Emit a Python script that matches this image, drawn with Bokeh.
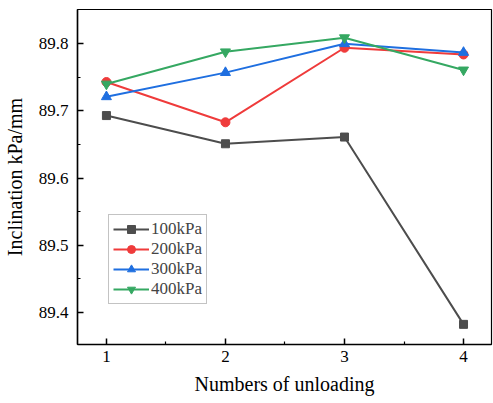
from bokeh.plotting import figure
from bokeh.models import FixedTicker, Range1d, Legend, LegendItem
from bokeh.embed import file_html
from bokeh.resources import INLINE

x = [1, 2, 3, 4]
s100 = [89.693, 89.651, 89.661, 89.382]
s200 = [89.743, 89.683, 89.794, 89.784]
s300 = [89.721, 89.757, 89.800, 89.787]
s400 = [89.740, 89.788, 89.809, 89.761]
names = ["100kPa", "200kPa", "300kPa", "400kPa"]
colors = ["#4d4d4d", "#ef3b3b", "#1f6fe0", "#35a862"]
markers = ["square", "circle", "triangle", "inverted_triangle"]
sizes = [8, 9, 10, 10]
series = [s100, s200, s300, s400]

FONT = "Liberation Serif"

p = figure(width=493, height=403, output_backend="svg", toolbar_location=None,
           x_range=Range1d(0.757, 4.235), y_range=Range1d(89.352, 89.851),
           min_border_left=76, min_border_right=2, min_border_top=9, min_border_bottom=59)
p.grid.visible = False
p.outline_line_color = "black"
p.outline_line_width = 1.2

items = []
for ys, name, c, m, s in zip(series, names, colors, markers, sizes):
    r1 = p.line(x, ys, line_color=c, line_width=2)
    r2 = p.scatter(x, ys, marker=m, size=s, fill_color=c, line_color=c)
    items.append(LegendItem(label=name, renderers=[r1, r2]))

leg = Legend(items=items, location=(31, 40))
leg.label_text_font = FONT
leg.label_text_font_size = "17px"
leg.label_standoff = 2
leg.glyph_width = 36
leg.glyph_height = 20
leg.label_height = 20
leg.spacing = 0
leg.padding = 4
leg.margin = 0
leg.border_line_color = "#888888"
leg.border_line_width = 1
leg.background_fill_alpha = 1
p.add_layout(leg, "center")

p.xaxis.ticker = FixedTicker(ticks=[1, 2, 3, 4], minor_ticks=[1.5, 2.5, 3.5])
p.yaxis.ticker = FixedTicker(ticks=[89.4, 89.5, 89.6, 89.7, 89.8],
                             minor_ticks=[89.45, 89.55, 89.65, 89.75])
for ax in (p.xaxis, p.yaxis):
    ax.major_tick_in = 6
    ax.major_tick_out = 0
    ax.minor_tick_in = 3
    ax.minor_tick_out = 0
    ax.axis_line_width = 1.5
    ax.major_tick_line_width = 1.5
    ax.minor_tick_line_width = 1.2
    ax.major_label_text_font = FONT
    ax.major_label_text_font_size = "17px"
    ax.major_label_text_color = "black"
    ax.axis_label_text_font = FONT
    ax.axis_label_text_font_size = "20px"
    ax.axis_label_text_font_style = "normal"
    ax.axis_label_text_color = "black"
p.xaxis.axis_label = "Numbers of unloading"
p.yaxis.axis_label = "Inclination kPa/mm"
p.yaxis.major_label_standoff = 9
p.xaxis.major_label_standoff = 6
p.xaxis.axis_label_standoff = 8
p.yaxis.axis_label_standoff = 10
p.yaxis.formatter.use_scientific = False

open("out.html", "w").write(file_html(p, INLINE))
